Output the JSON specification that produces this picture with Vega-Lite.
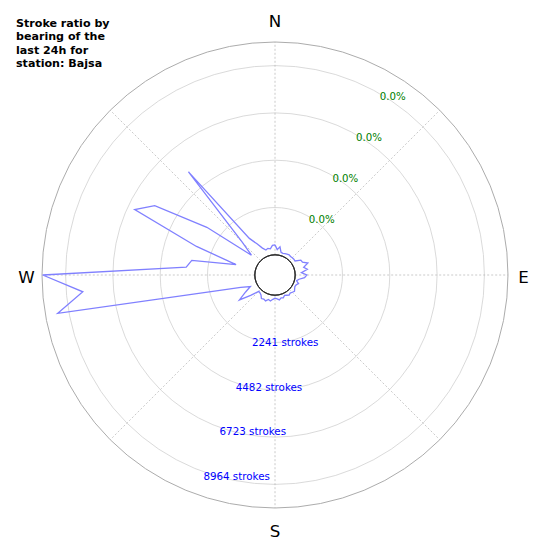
{
  "$schema": "https://vega.github.io/schema/vega-lite/v6.json",
  "width": 550,
  "height": 550,
  "autosize": {"type": "none"},
  "padding": 0,
  "background": "white",
  "config": {"view": {"stroke": null}, "font": "DejaVu Sans"},
  "title": {
    "text": ["Stroke ratio by", "bearing of the", "last 24h for", "station: Bajsa"],
    "anchor": "start",
    "orient": "top",
    "frame": "group",
    "offset": 0,
    "dx": 16,
    "dy": 78,
    "baseline": "alphabetic",
    "font": "DejaVu Sans",
    "fontSize": 11.1,
    "fontWeight": "bold",
    "lineHeight": 13.3,
    "color": "#000000"
  },
  "datasets": {
    "rings": [
      {"strokes": 2241, "label": "2241 strokes", "pct": "0.0%"},
      {"strokes": 4482, "label": "4482 strokes", "pct": "0.0%"},
      {"strokes": 6723, "label": "6723 strokes", "pct": "0.0%"},
      {"strokes": 8964, "label": "8964 strokes", "pct": "0.0%"}
    ],
    "bearings": [
      {"bearing": 0, "count": 470}, {"bearing": 5, "count": 250}, {"bearing": 10, "count": 400},
      {"bearing": 15, "count": 150}, {"bearing": 20, "count": 130}, {"bearing": 25, "count": 160},
      {"bearing": 30, "count": 180}, {"bearing": 35, "count": 210}, {"bearing": 40, "count": 190},
      {"bearing": 45, "count": 200}, {"bearing": 50, "count": 210}, {"bearing": 55, "count": 200},
      {"bearing": 60, "count": 455}, {"bearing": 65, "count": 480}, {"bearing": 70, "count": 700},
      {"bearing": 75, "count": 450}, {"bearing": 80, "count": 600}, {"bearing": 85, "count": 300},
      {"bearing": 90, "count": 550}, {"bearing": 95, "count": 450}, {"bearing": 100, "count": 200},
      {"bearing": 105, "count": 100}, {"bearing": 110, "count": 230}, {"bearing": 115, "count": 150},
      {"bearing": 120, "count": 130}, {"bearing": 125, "count": 180}, {"bearing": 130, "count": 250},
      {"bearing": 135, "count": 200}, {"bearing": 140, "count": 160}, {"bearing": 145, "count": 210},
      {"bearing": 150, "count": 150}, {"bearing": 155, "count": 110}, {"bearing": 160, "count": 190},
      {"bearing": 165, "count": 160}, {"bearing": 170, "count": 240}, {"bearing": 175, "count": 180},
      {"bearing": 180, "count": 140}, {"bearing": 185, "count": 200}, {"bearing": 190, "count": 290},
      {"bearing": 195, "count": 240}, {"bearing": 200, "count": 350}, {"bearing": 205, "count": 300},
      {"bearing": 210, "count": 330}, {"bearing": 215, "count": 200}, {"bearing": 220, "count": 150},
      {"bearing": 225, "count": 130}, {"bearing": 230, "count": 550}, {"bearing": 235, "count": 1100},
      {"bearing": 240, "count": 650}, {"bearing": 245, "count": 330}, {"bearing": 250, "count": 770},
      {"bearing": 255, "count": 2010}, {"bearing": 260, "count": 9495}, {"bearing": 265, "count": 8183},
      {"bearing": 270, "count": 10050}, {"bearing": 275, "count": 3265}, {"bearing": 280, "count": 3047},
      {"bearing": 285, "count": 952}, {"bearing": 290, "count": 3000}, {"bearing": 295, "count": 6377},
      {"bearing": 300, "count": 5623}, {"bearing": 305, "count": 2985}, {"bearing": 310, "count": 500},
      {"bearing": 315, "count": 1240}, {"bearing": 320, "count": 5420}, {"bearing": 325, "count": 1160},
      {"bearing": 330, "count": 750}, {"bearing": 335, "count": 450}, {"bearing": 340, "count": 300},
      {"bearing": 345, "count": 350}, {"bearing": 350, "count": 300}, {"bearing": 355, "count": 450},
      {"bearing": 360, "count": 470}
    ]
  },
  "layer": [
    {
      "data": {"name": "rings"},
      "mark": {"type": "arc", "filled": false, "stroke": "#d0d0d0", "strokeWidth": 0.8, "theta": 0, "theta2": 6.2832},
      "encoding": {
        "radius": {"field": "strokes", "type": "quantitative", "stack": null, "scale": {"type": "linear", "domain": [-957, 12072], "range": [0, 275], "nice": false, "zero": false}}
      }
    },
    {
      "data": {"values": [{"bearing": 0}, {"bearing": 45}, {"bearing": 90}, {"bearing": 135}, {"bearing": 180}, {"bearing": 225}, {"bearing": 270}, {"bearing": 315}]},
      "transform": [
        {"calculate": "957 * sin(datum.bearing * PI / 180)", "as": "e1"},
        {"calculate": "957 * cos(datum.bearing * PI / 180)", "as": "n1"},
        {"calculate": "11039 * sin(datum.bearing * PI / 180)", "as": "e2"},
        {"calculate": "11039 * cos(datum.bearing * PI / 180)", "as": "n2"}
      ],
      "mark": {"type": "rule", "stroke": "#bdbdbd", "strokeWidth": 0.8, "strokeDash": [2, 2]},
      "encoding": {
        "x": {"field": "e1", "type": "quantitative", "scale": {"domain": [-13029, 13029], "nice": false, "zero": false}, "axis": null},
        "y": {"field": "n1", "type": "quantitative", "scale": {"domain": [-13029, 13029], "nice": false, "zero": false}, "axis": null},
        "x2": {"field": "e2"},
        "y2": {"field": "n2"}
      }
    },
    {
      "data": {"values": [{"strokes": 10082}]},
      "mark": {"type": "arc", "filled": false, "stroke": "#acacac", "strokeWidth": 1, "theta": 0, "theta2": 6.2832},
      "encoding": {
        "radius": {"field": "strokes", "type": "quantitative", "stack": null, "scale": {"type": "linear", "domain": [-957, 12072], "range": [0, 275], "nice": false, "zero": false}}
      }
    },
    {
      "data": {"values": [{"strokes": 0}]},
      "mark": {"type": "arc", "filled": false, "stroke": "#222222", "strokeWidth": 0.9, "theta": 0, "theta2": 6.2832},
      "encoding": {
        "radius": {"field": "strokes", "type": "quantitative", "stack": null, "scale": {"type": "linear", "domain": [-957, 12072], "range": [0, 275], "nice": false, "zero": false}}
      }
    },
    {
      "data": {"name": "bearings"},
      "transform": [
        {"calculate": "(datum.count + 957) * sin(datum.bearing * PI / 180)", "as": "east"},
        {"calculate": "(datum.count + 957) * cos(datum.bearing * PI / 180)", "as": "north"}
      ],
      "mark": {"type": "line", "stroke": "#8080ff", "strokeWidth": 1.3, "interpolate": "linear"},
      "encoding": {
        "x": {"field": "east", "type": "quantitative", "scale": {"domain": [-13029, 13029], "nice": false, "zero": false}, "axis": null},
        "y": {"field": "north", "type": "quantitative", "scale": {"domain": [-13029, 13029], "nice": false, "zero": false}, "axis": null},
        "order": {"field": "bearing", "type": "quantitative"}
      }
    },
    {
      "data": {"name": "rings"},
      "mark": {"type": "text", "align": "left", "baseline": "top", "color": "#008000", "fontSize": 10.2, "font": "DejaVu Sans", "dy": -1.5},
      "encoding": {
        "theta": {"datum": 30, "type": "quantitative", "scale": {"type": "linear", "domain": [0, 360], "range": [0, 6.283185]}},
        "radius": {"field": "strokes", "type": "quantitative", "stack": null, "scale": {"type": "linear", "domain": [-957, 12072], "range": [0, 275], "nice": false, "zero": false}},
        "text": {"field": "pct"}
      }
    },
    {
      "data": {"name": "rings"},
      "mark": {"type": "text", "align": "left", "baseline": "top", "color": "#0000ff", "fontSize": 10.3, "font": "DejaVu Sans"},
      "encoding": {
        "theta": {"datum": 200, "type": "quantitative", "scale": {"type": "linear", "domain": [0, 360], "range": [0, 6.283185]}},
        "radius": {"field": "strokes", "type": "quantitative", "stack": null, "scale": {"type": "linear", "domain": [-957, 12072], "range": [0, 275], "nice": false, "zero": false}},
        "text": {"field": "label"}
      }
    },
    {
      "data": {"values": [{"bearing": 0, "label": "N"}, {"bearing": 180, "label": "S"}]},
      "mark": {"type": "text", "align": "center", "baseline": "middle", "color": "#000000", "fontSize": 16.67, "font": "DejaVu Sans", "dy": 1.9},
      "encoding": {
        "theta": {"field": "bearing", "type": "quantitative", "scale": {"type": "linear", "domain": [0, 360], "range": [0, 6.283185]}},
        "radius": {"datum": 11124, "type": "quantitative", "scale": {"type": "linear", "domain": [-957, 12072], "range": [0, 275], "nice": false, "zero": false}},
        "text": {"field": "label"}
      }
    },
    {
      "data": {"values": [{"bearing": 90, "label": "E"}, {"bearing": 270, "label": "W"}]},
      "mark": {"type": "text", "align": "center", "baseline": "middle", "color": "#000000", "fontSize": 16.67, "font": "DejaVu Sans", "dy": 2.8},
      "encoding": {
        "theta": {"field": "bearing", "type": "quantitative", "scale": {"type": "linear", "domain": [0, 360], "range": [0, 6.283185]}},
        "radius": {"datum": 10816, "type": "quantitative", "scale": {"type": "linear", "domain": [-957, 12072], "range": [0, 275], "nice": false, "zero": false}},
        "text": {"field": "label"}
      }
    }
  ]
}
